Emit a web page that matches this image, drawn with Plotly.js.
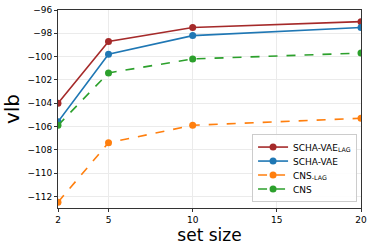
<!DOCTYPE html>
<html><head><meta charset="utf-8">
<script src="https://cdn.plot.ly/plotly-3.0.1.min.js"></script>
<style>html,body{margin:0;padding:0;background:#fff}#c{width:374px;height:250px}</style>
</head><body><div id="c"></div>
<script>
const setSize = [2, 5, 10, 20];
const schaVaeLag = [-104.0, -98.7, -97.5, -97.0];
const schaVae = [-105.6, -99.8, -98.2, -97.5];
const cnsLag = [-112.5, -107.4, -105.9, -105.3];
const cns = [-105.9, -101.4, -100.2, -99.7];
const xTicks = [2, 5, 10, 15, 20];
const yTicks = [-112, -110, -108, -106, -104, -102, -100, -98, -96];

function tr(y, name, color, dash) {
  return {x: setSize, y: y, name: name, type: 'scatter', mode: 'lines+markers',
    line: {color: color, width: 1.6, dash: dash}, marker: {color: color, size: 7}};
}
const data = [
  tr(schaVaeLag, 'SCHA-VAE<sub>LAG</sub>', '#a52a2a', 'solid'),
  tr(schaVae, 'SCHA-VAE', '#1f77b4', 'solid'),
  tr(cnsLag, 'CNS<sub>-LAG</sub>', '#ff7f0e', 'dash'),
  tr(cns, 'CNS', '#2ca02c', 'dash')
];
const ax = {showline: true, mirror: true, linecolor: '#333', linewidth: 1, ticks: 'outside', ticklen: 3,
  tickcolor: '#333', gridcolor: '#ebebeb', zeroline: false, tickfont: {family: 'DejaVu Sans', size: 9, color: '#000'}};
const layout = {
  width: 374, height: 250, margin: {l: 58, r: 13, t: 10, b: 42},
  paper_bgcolor: '#fff', plot_bgcolor: '#fff', showlegend: true,
  xaxis: Object.assign({}, ax, {range: [2, 20], tickvals: xTicks, ticktext: xTicks.map(String),
    title: {text: 'set size', font: {family: 'DejaVu Sans', size: 17, color: '#000'}, standoff: 4}}),
  yaxis: Object.assign({}, ax, {range: [-113, -96], tickvals: yTicks, ticktext: yTicks.map(v => '\u2212' + Math.abs(v)),
    title: {text: 'vlb', font: {family: 'DejaVu Sans', size: 20, color: '#000'}, standoff: 6}}),
  legend: {x: 0.987, y: 0.03, xanchor: 'right', yanchor: 'bottom', bgcolor: 'rgba(255,255,255,0.9)',
    bordercolor: '#ccc', borderwidth: 1, font: {family: 'DejaVu Sans', size: 9, color: '#000'},
    tracegroupgap: 0, itemwidth: 30}
};
Plotly.newPlot('c', data, layout, {staticPlot: true, displayModeBar: false}).then(function (gd) {
  // tighten legend row spacing (Plotly enforces a 19px minimum row height)
  try {
    const leg = gd.querySelector('.legend');
    const items = Array.from(leg.querySelectorAll('.traces'));
    const parse = el => { const m = /translate\(\s*([-\d.e]+)[ ,]+([-\d.e]+)\s*\)/.exec(el.getAttribute('transform') || ''); return m ? [+m[1], +m[2]] : null; };
    const pos = items.map(parse);
    if (pos.length > 1 && pos.every(p => p)) {
      const oldRow = pos[1][1] - pos[0][1];
      const row = 14;
      const shrink = items.length * (oldRow - row);
      items.forEach((el, i) => {
        el.setAttribute('transform', 'translate(' + pos[i][0] + ',' + (pos[0][1] - (oldRow - row) / 2 + i * row) + ')');
      });
      const bg = leg.querySelector('rect.bg');
      if (bg) bg.setAttribute('height', (+bg.getAttribute('height')) - shrink);
      const lp = parse(leg);
      if (lp) leg.setAttribute('transform', 'translate(' + lp[0] + ',' + (lp[1] + shrink) + ')');
    }
  } catch (e) {}
});
</script></body></html>
